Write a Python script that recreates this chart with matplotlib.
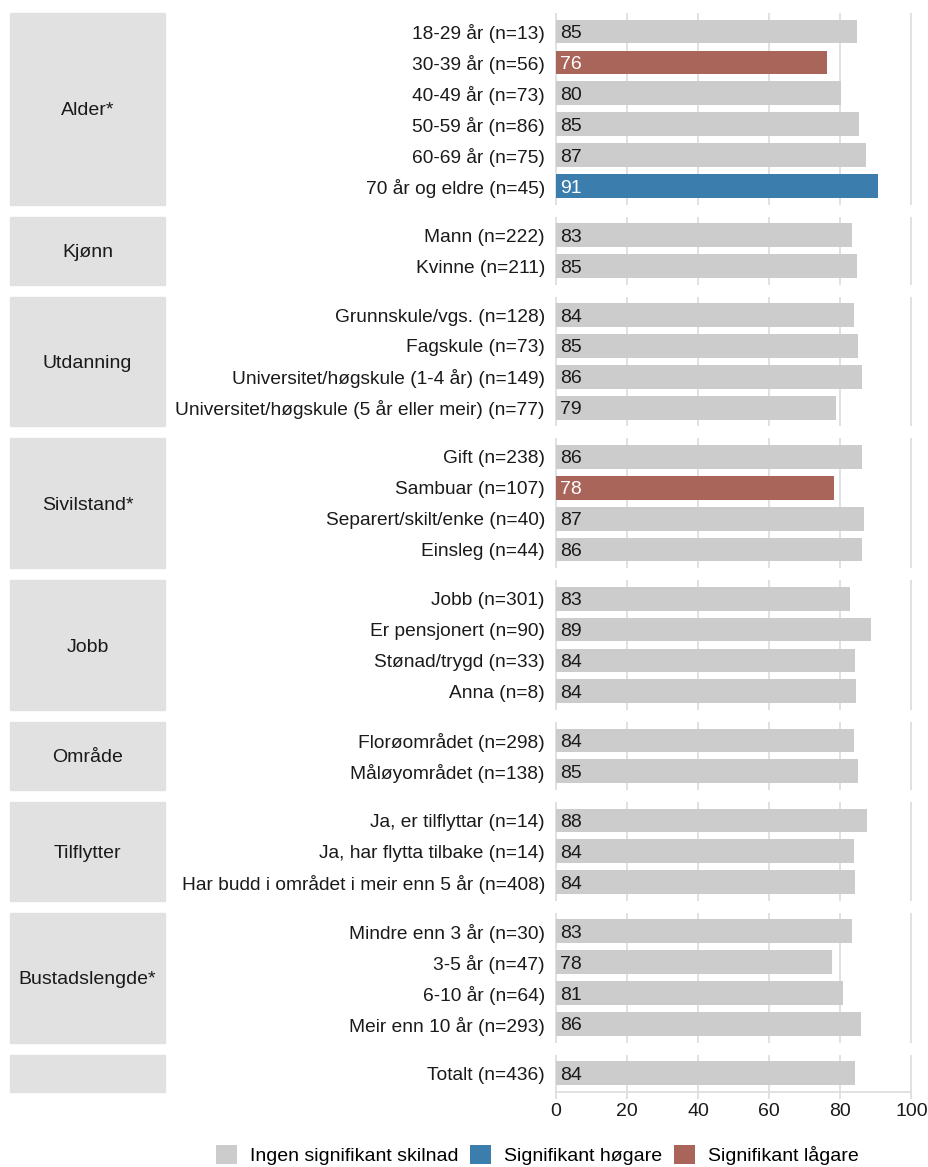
import matplotlib
matplotlib.use("Agg")
import matplotlib.pyplot as plt
from matplotlib.patches import Patch, Rectangle

plt.rcParams['font.family'] = ['Liberation Sans', 'DejaVu Sans']

groups = ['Alder*', 'Kjønn', 'Utdanning', 'Sivilstand*', 'Jobb', 'Område',
          'Tilflytter', 'Bustadslengde*', '']

categories = [
    ['18-29 år (n=13)', '30-39 år (n=56)', '40-49 år (n=73)', '50-59 år (n=86)',
     '60-69 år (n=75)', '70 år og eldre (n=45)'],
    ['Mann (n=222)', 'Kvinne (n=211)'],
    ['Grunnskule/vgs. (n=128)', 'Fagskule (n=73)',
     'Universitet/høgskule (1-4 år) (n=149)',
     'Universitet/høgskule (5 år eller meir) (n=77)'],
    ['Gift (n=238)', 'Sambuar (n=107)', 'Separert/skilt/enke (n=40)', 'Einsleg (n=44)'],
    ['Jobb (n=301)', 'Er pensjonert (n=90)', 'Stønad/trygd (n=33)', 'Anna (n=8)'],
    ['Florøområdet (n=298)', 'Måløyområdet (n=138)'],
    ['Ja, er tilflyttar (n=14)', 'Ja, har flytta tilbake (n=14)',
     'Har budd i området i meir enn 5 år (n=408)'],
    ['Mindre enn 3 år (n=30)', '3-5 år (n=47)', '6-10 år (n=64)', 'Meir enn 10 år (n=293)'],
    ['Totalt (n=436)'],
]

values = [
    [84.6, 76.2, 80.2, 85.3, 87.3, 90.6],
    [83.3, 84.7],
    [83.9, 85.0, 86.1, 78.8],
    [86.1, 78.3, 86.7, 86.1],
    [82.8, 88.6, 84.2, 84.4],
    [83.7, 85.0],
    [87.6, 83.9, 84.2],
    [83.3, 77.7, 80.8, 85.8],
    [84.2],
]

significance = [
    ['ns', 'lo', 'ns', 'ns', 'ns', 'hi'],
    ['ns', 'ns'],
    ['ns', 'ns', 'ns', 'ns'],
    ['ns', 'lo', 'ns', 'ns'],
    ['ns', 'ns', 'ns', 'ns'],
    ['ns', 'ns'],
    ['ns', 'ns', 'ns'],
    ['ns', 'ns', 'ns', 'ns'],
    ['ns'],
]

legend_labels = ['Ingen signifikant skilnad', 'Signifikant høgare', 'Signifikant lågare']
x_ticks = [0, 20, 40, 60, 80, 100]

colors = {'ns': '#cccccc', 'hi': '#3b7dad', 'lo': '#a9655a'}
text_colors = {'ns': '#1a1a1a', 'hi': 'white', 'lo': 'white'}
strip_color = '#e1e1e1'
grid_color = '#dedede'
FS = 14
FS_CAT = 13.8

W, H = 929, 1167
fig = plt.figure(figsize=(W / 100, H / 100), dpi=100)

unit = 30.9
gap = 12
top = 13
x0_px = 556.0
px_per_unit = 3.555
ax_left_px = 553.0
ax_right_px = 927.0
xmin = -(x0_px - ax_left_px) / px_per_unit
xmax = (ax_right_px - x0_px) / px_per_unit
strip_l, strip_r = 10, 165

y = top
for gi, (g, cats, vals, sigs) in enumerate(zip(groups, categories, values, significance)):
    n = len(cats)
    h = (n + 0.2) * unit
    ax = fig.add_axes([ax_left_px / W, 1 - (y + h) / H,
                       (ax_right_px - ax_left_px) / W, h / H])
    ax.set_xlim(xmin, xmax)
    ax.set_ylim(n + 0.6, 0.4)
    for t in x_ticks:
        ax.axvline(t, color=grid_color, lw=1.3, zorder=0)
    pos = list(range(1, n + 1))
    ax.barh(pos, vals, height=0.77, color=[colors[s] for s in sigs], zorder=2)
    for p, v, s in zip(pos, vals, sigs):
        ax.text(1.2, p, f"{round(v)}", ha='left', va='center_baseline', fontsize=FS,
                color=text_colors[s], zorder=3)
    ax.set_yticks(pos)
    ax.set_yticklabels(cats, fontsize=FS_CAT, color='#1a1a1a')
    ax.tick_params(axis='y', length=0, pad=5.8)
    for sp in ax.spines.values():
        sp.set_visible(False)
    ax.patch.set_alpha(0)
    fig.patches.append(Rectangle((strip_l / W, 1 - (y + h) / H),
                                 (strip_r - strip_l) / W, h / H,
                                 transform=fig.transFigure, color=strip_color,
                                 zorder=0))
    fig.text((strip_l + strip_r) / 2 / W, 1 - (y + h / 2) / H, g,
             ha='center', va='center_baseline', fontsize=FS, color='#1a1a1a')
    if gi == len(groups) - 1:
        ax.set_xticks(x_ticks)
        ax.set_xticklabels([str(t) for t in x_ticks], fontsize=FS, color='#1a1a1a')
        ax.tick_params(axis='x', length=5, width=1.3, color=grid_color, pad=3)
        ax.spines['bottom'].set_visible(True)
        ax.spines['bottom'].set_color(grid_color)
        ax.spines['bottom'].set_linewidth(1.3)
        ax.spines['bottom'].set_bounds(0, 100)
    else:
        ax.set_xticks([])
    y += h + gap

handles = [Patch(facecolor=colors[k], edgecolor='none') for k in ['ns', 'hi', 'lo']]
fig.legend(handles, legend_labels, loc='center', ncol=3, frameon=False,
           fontsize=FS, bbox_to_anchor=(537 / W, 1 - 1155 / H),
           handlelength=1.1, handleheight=1.1, handletextpad=0.65,
           columnspacing=0.6)

fig.savefig('out.png', dpi=100)
